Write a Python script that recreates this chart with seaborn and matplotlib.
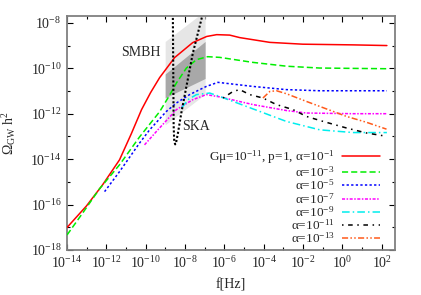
import numpy as np
import matplotlib
matplotlib.use('Agg')
import matplotlib.pyplot as plt
import seaborn as sns
from matplotlib.ticker import FixedLocator, FuncFormatter, NullFormatter

# log10 values
red_lf = [-14.0, -13.01, -12.19, -11.33, -10.73, -10.21, -9.75, -9.29, -8.53, -7.61, -6.90, -6.39, -5.73, -5.22, -3.69, -2.02, 0.53, 2.26]
red_lo = [-17.01, -16.06, -15.13, -14.03, -12.88, -11.82, -11.07, -10.41, -9.53, -8.87, -8.60, -8.52, -8.54, -8.65, -8.86, -8.94, -8.97, -9.00]

green_lf = [-14.0, -13.16, -12.35, -11.33, -10.31, -9.29, -8.78, -8.44, -7.93, -7.42, -6.85, -6.24, -4.56, -2.83, -1.15, 2.26]
green_lo = [-17.34, -16.32, -15.31, -14.25, -13.02, -11.91, -11.18, -10.65, -9.99, -9.62, -9.49, -9.52, -9.74, -9.91, -9.99, -10.02]

blue_lf = [-12.09, -11.33, -10.31, -9.80, -8.95, -8.44, -7.77, -6.92, -6.33, -4.54, -2.85, -1.15, 2.26]
blue_lo = [-15.43, -14.55, -13.29, -12.71, -11.90, -11.53, -11.16, -10.80, -10.62, -10.80, -10.94, -10.99, -10.99]

magenta_lf = [-10.06, -9.38, -8.44, -7.60, -6.92, -6.24, -4.54, -2.85, -1.83, 0.54, 2.26]
magenta_lo = [-13.37, -12.71, -11.82, -11.38, -11.16, -11.26, -11.60, -11.86, -11.97, -12.00, -12.00]

cyan_lf = [-8.19, -7.80, -7.42, -6.75, -6.24, -4.54, -2.85, -1.15, 0.54, 2.26]
cyan_lo = [-11.75, -11.35, -11.16, -11.09, -11.24, -11.79, -12.34, -12.71, -12.83, -12.83]

black_lf = [-6.07, -5.56, -5.22, -4.71, -4.04, -3.35, -2.51, -1.83, -0.98, 0.21, 1.23, 2.07]
black_lo = [-11.31, -11.02, -10.94, -11.16, -11.31, -11.60, -11.82, -12.12, -12.34, -12.63, -12.85, -12.97]

orange_lf = [-4.04, -3.69, -3.35, -2.85, -1.83, -0.81, 0.21, 1.23, 2.24]
orange_lo = [-11.31, -11.02, -10.99, -11.12, -11.46, -11.79, -12.12, -12.38, -12.68]

# SKA sensitivity curve
ska_lf = [-8.62, -8.60, -8.58, -8.55, -8.50, -8.45, -8.36, -8.19, -7.93, -7.60, -7.17, -7.05]
ska_lo = [-7.60, -10.0, -12.5, -13.2, -13.35, -13.25, -12.85, -11.97, -10.80, -9.32, -7.85, -7.40]

# SMBH band
smbh_lf = [-9.01, -6.98]
smbh_outer_lo = [-12.49, -11.14]
smbh_outer_hi = [-8.82, -7.47]
smbh_inner_lo = [-11.30, -10.45]
smbh_inner_hi = [-10.25, -8.82]

labels = ['Gμ=10$^{-11}$, p=1, α=10$^{-1}$', 'α=10$^{-3}$', 'α=10$^{-5}$', 'α=10$^{-7}$',
          'α=10$^{-9}$', 'α=10$^{-11}$', 'α=10$^{-13}$']

sns.set_style('ticks')
plt.rcParams['font.family'] = ['Liberation Serif', 'DejaVu Serif']
plt.rcParams['mathtext.fontset'] = 'custom'
plt.rcParams['mathtext.rm'] = 'Liberation Serif'
plt.rcParams['mathtext.it'] = 'Liberation Serif:italic'
plt.rcParams['font.size'] = 10

fig = plt.figure(figsize=(4.21, 2.95), dpi=100)
ax = fig.add_axes([67/421, 1-250/295, 328/421, 234/295])
ax.set_xscale('log')
ax.set_yscale('log')

p = lambda v: 10**np.array(v)

# SMBH shaded region
ax.fill_between(p(smbh_lf), p(smbh_outer_lo), p(smbh_outer_hi), color='#e6e6e6', lw=0, zorder=1)
ax.fill_between(p(smbh_lf), p(smbh_inner_lo), p(smbh_inner_hi), color='#a8a8a8', lw=0, zorder=1)

series = [
    (red_lf, red_lo, '#ff0000', '-'),
    (green_lf, green_lo, '#00ee00', (0, (4, 2))),
    (blue_lf, blue_lo, '#0000ff', (0, (1.5, 1.5))),
    (magenta_lf, magenta_lo, '#ff00ff', (0, (2, 1, 1, 1))),
    (cyan_lf, cyan_lo, '#00eeee', (0, (5, 2, 1, 2))),
    (black_lf, black_lo, '#000000', (0, (1, 3, 3, 3))),
    (orange_lf, orange_lo, '#ff5a1a', (0, (4, 1.5, 1, 1.5, 1, 1.5))),
]
for (lf, lo, c, ls), lab in zip(series, labels):
    sns.lineplot(x=p(lf), y=p(lo), ax=ax, color=c, linestyle=ls, lw=1.1,
                 label=lab, sort=False, estimator=None, zorder=3)

sns.lineplot(x=p(ska_lf), y=p(ska_lo), ax=ax, color='black', linestyle=(0, (1, 1)),
             lw=1.5, sort=False, estimator=None, zorder=4)

ax.text(10**-10.26, 10**-9.31, 'SMBH', ha='center', va='center', fontsize=10)
ax.text(10**-7.46, 10**-12.57, 'SKA', ha='center', va='center', fontsize=10)

ax.set_xlim(1e-14, 470)
ax.set_ylim(1e-18, 2e-8)

fmt = FuncFormatter(lambda v, pos: r'$10^{%d}$' % round(np.log10(v)))
ax.xaxis.set_major_locator(FixedLocator(10.0**np.arange(-14, 3, 2)))
ax.xaxis.set_minor_locator(FixedLocator(10.0**np.arange(-13, 3, 2)))
ax.yaxis.set_major_locator(FixedLocator(10.0**np.arange(-18, -7, 2)))
ax.yaxis.set_minor_locator(FixedLocator(10.0**np.arange(-17, -7, 2)))
ax.xaxis.set_major_formatter(fmt)
ax.yaxis.set_major_formatter(fmt)
ax.xaxis.set_minor_formatter(NullFormatter())
ax.yaxis.set_minor_formatter(NullFormatter())
ax.tick_params(which='both', direction='in', top=True, right=True, color='black', width=0.8, labelsize=10)
ax.tick_params(which='major', length=4.3, pad=4)
ax.tick_params(which='minor', length=2.2)
for s in ax.spines.values():
    s.set_color('#808080')
    s.set_linewidth(1.3)

ax.set_xlabel('f[Hz]', fontsize=10, labelpad=5)
ax.set_ylabel('Ω$_{\\rm GW}$ h$^2$', fontsize=10, labelpad=9)

ax.legend(loc='lower right', bbox_to_anchor=(1 - 15/328, 4/234), markerfirst=False, frameon=False,
          handlelength=2.85, handletextpad=0.6, labelspacing=-0.1, borderpad=0, borderaxespad=0,
          fontsize=9.5)

fig.savefig('out.png', dpi=100)
